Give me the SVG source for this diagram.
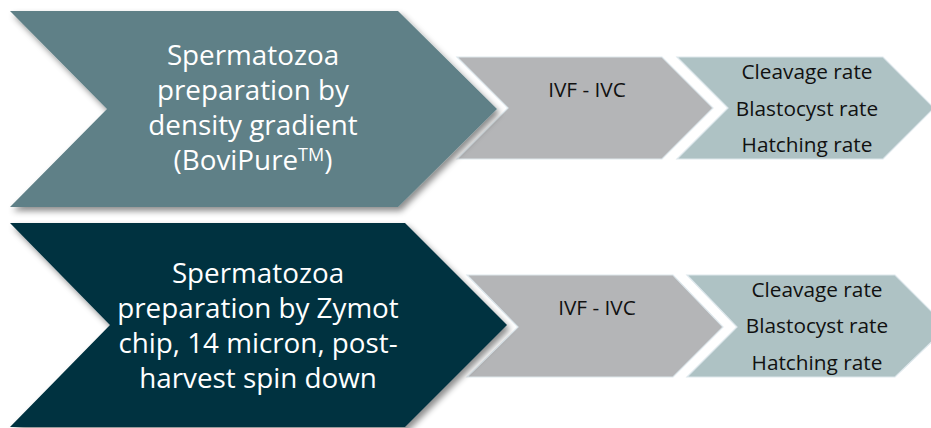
<svg xmlns="http://www.w3.org/2000/svg" width="931" height="428" viewBox="0 0 931 428">
  <defs>
    <filter id="shadow" x="-10%" y="-10%" width="125%" height="130%">
      <feDropShadow dx="3" dy="4" stdDeviation="3" flood-color="#000" flood-opacity="0.45"/>
    </filter>
    <style>
      .big { font-family: "Open Sans", "Liberation Sans", sans-serif; font-size: 27.8px; fill: #ffffff; text-anchor: middle; }
      .small { font-family: "Open Sans", "Liberation Sans", sans-serif; font-size: 20.8px; fill: #111111; text-anchor: middle; }
      .grey { fill: #B4B5B7; stroke: #dde7ec; stroke-width: 1.2; }
      .light { fill: #AEC2C4; stroke: #dde7ec; stroke-width: 1.2; }
    </style>
  </defs>
  <rect width="931" height="428" fill="#ffffff"/>

  <!-- Row 1 -->
  <g id="ivf1">
    <polygon class="grey" points="457,57 662,57 713,108 662,159 457,159 508,108"/>
    <text class="small" x="587" y="97">IVF - IVC</text>
  </g>
  <g id="rates1">
    <polygon class="light" points="677,57 883,57 934,108 883,159 677,159 728,108"/>
    <text class="small" x="807" y="79">Cleavage rate</text>
    <text class="small" x="807" y="115.5">Blastocyst rate</text>
    <text class="small" x="807" y="152">Hatching rate</text>
  </g>
  <g id="prep1">
    <polygon points="10,11 398,11 497,109 398,207 10,207 107,109" fill="#5F8087" filter="url(#shadow)"/>
    <text class="big" x="253" y="65">Spermatozoa</text>
    <text class="big" x="253" y="100">preparation by</text>
    <text class="big" x="253" y="135">density gradient</text>
    <text class="big" x="253" y="170">(BoviPure<tspan font-size="18" dy="-9">TM</tspan><tspan dy="9">)</tspan></text>
  </g>

  <!-- Row 2 -->
  <g id="ivf2">
    <polygon class="grey" points="467,275 673,275 723,327 673,377 467,377 518,327"/>
    <text class="small" x="597" y="315">IVF - IVC</text>
  </g>
  <g id="rates2">
    <polygon class="light" points="687,275 895,275 947,327 895,377 687,377 737,327"/>
    <text class="small" x="817" y="297">Cleavage rate</text>
    <text class="small" x="817" y="333">Blastocyst rate</text>
    <text class="small" x="817" y="370">Hatching rate</text>
  </g>
  <g id="prep2">
    <polygon points="10,223 405,223 507,325 405,427 10,427 110,325" fill="#033340" filter="url(#shadow)"/>
    <text class="big" x="258" y="283">Spermatozoa</text>
    <text class="big" x="258" y="318">preparation by Zymot</text>
    <text class="big" x="258" y="353">chip, 14 micron, post-</text>
    <text class="big" x="258" y="388">harvest spin down</text>
  </g>
</svg>
